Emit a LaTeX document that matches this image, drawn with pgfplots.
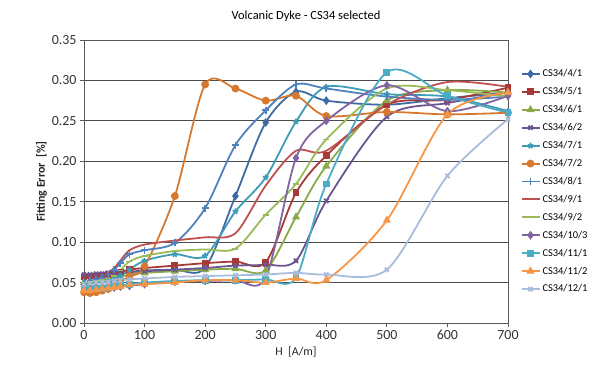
\documentclass[border=0pt]{standalone}
\usepackage{pgfplots}
\pgfplotsset{compat=1.18}
\usepackage{fontspec}
\setmainfont{Carlito}
\definecolor{cA}{HTML}{3F6BA5}
\definecolor{cB}{HTML}{A63A37}
\definecolor{cC}{HTML}{8AAA4A}
\definecolor{cD}{HTML}{6B5590}
\definecolor{cE}{HTML}{3E9DB6}
\definecolor{cF}{HTML}{D6792E}
\definecolor{cG}{HTML}{4F81BD}
\definecolor{cH}{HTML}{C0504D}
\definecolor{cI}{HTML}{9BBB59}
\definecolor{cJ}{HTML}{8064A2}
\definecolor{cK}{HTML}{4BACC6}
\definecolor{cL}{HTML}{F79646}
\definecolor{cM}{HTML}{A9BCDD}
\begin{document}
\begin{tikzpicture}[x=1bp,y=1bp]
\path[use as bounding box] (0,0) rectangle (597,374);
\node[font=\fontsize{12.5}{14}\selectfont] at (306,358) {Volcanic Dyke - CS34 selected};
\begin{axis}[
  at={(84bp,51bp)}, anchor=south west,
  scale only axis, width=424bp, height=283bp,
  xmin=0, xmax=700, ymin=0, ymax=0.35,
  xtick={0,100,...,700}, ytick={0,0.05,...,0.35},
  xtick pos=bottom, ytick pos=left, tick align=outside,
  major tick length=4bp,
  tick style={gray!70!black, line width=0.8pt},
  axis line style={gray!70!black, line width=0.9pt},
  ymajorgrids, grid style={black!70, line width=0.8pt},
  /pgf/number format/assume math mode=true,
  yticklabel style={/pgf/number format/.cd, fixed, fixed zerofill, precision=2},
  ticklabel style={font=\fontsize{14}{16}\selectfont, text=black!80},
  xlabel={H\ \ [A/m]}, ylabel={\bfseries Fitting Error\ \ [\%]},
  label style={font=\fontsize{12}{14}\selectfont, text=black!85},
  ylabel style={yshift=-2bp},
  every axis plot/.append style={smooth, tension=0.5, line width=1.8pt},
  mark options={solid},
  legend style={at={(1.022,0.5)}, anchor=west, draw=white,
     font=\fontsize{10.5}{12}\selectfont, row sep=5.2pt},
  legend image code/.code={%
    \draw[line width=2pt, mark=none] (0bp,0bp) -- (18bp,0bp);%
    \draw[line width=1.8pt] plot[only marks] coordinates {(9bp,0bp)};},
  legend cell align=left,
]
\addplot[color=cA, mark=diamond*, mark size=3] coordinates {(0,0.055)(10,0.056)(20,0.057)(30,0.058)(40,0.059)(50,0.060)(60,0.061)(75,0.063)(100,0.065)(150,0.066)(200,0.068)(250,0.157)(300,0.248)(350,0.286)(400,0.275)(500,0.270)(600,0.278)(700,0.285)};
\addlegendentry{CS34/4/1}
\addplot[color=cB, mark=square*, mark size=2.5] coordinates {(0,0.057)(10,0.058)(20,0.058)(30,0.059)(40,0.060)(50,0.061)(60,0.063)(75,0.066)(100,0.068)(150,0.071)(200,0.074)(250,0.076)(300,0.075)(350,0.161)(400,0.207)(500,0.270)(600,0.276)(700,0.291)};
\addlegendentry{CS34/5/1}
\addplot[color=cC, mark=triangle*, mark size=3] coordinates {(0,0.050)(10,0.051)(20,0.052)(30,0.053)(40,0.054)(50,0.055)(60,0.057)(75,0.060)(100,0.062)(150,0.064)(200,0.066)(250,0.067)(300,0.065)(350,0.131)(400,0.194)(500,0.275)(600,0.288)(700,0.285)};
\addlegendentry{CS34/6/1}
\addplot[color=cD, mark=x, mark size=3] coordinates {(0,0.060)(10,0.060)(20,0.061)(30,0.061)(40,0.062)(50,0.062)(60,0.062)(75,0.063)(100,0.064)(150,0.066)(200,0.068)(250,0.071)(300,0.072)(350,0.077)(400,0.151)(500,0.255)(600,0.272)(700,0.285)};
\addlegendentry{CS34/6/2}
\addplot[color=cE, mark=star, mark size=3] coordinates {(0,0.048)(10,0.049)(20,0.050)(30,0.052)(40,0.053)(50,0.055)(60,0.058)(75,0.066)(100,0.077)(150,0.085)(200,0.083)(250,0.138)(300,0.180)(350,0.249)(400,0.292)(500,0.283)(600,0.280)(700,0.262)};
\addlegendentry{CS34/7/1}
\addplot[color=cF, mark=*, mark size=3] coordinates {(0,0.038)(10,0.037)(20,0.038)(30,0.040)(40,0.042)(50,0.045)(60,0.050)(75,0.058)(100,0.070)(150,0.157)(200,0.295)(250,0.290)(300,0.275)(350,0.281)(400,0.256)(500,0.261)(600,0.258)(700,0.260)};
\addlegendentry{CS34/7/2}
\addplot[color=cG, mark=+, mark size=3.5] coordinates {(0,0.050)(10,0.052)(20,0.054)(30,0.056)(40,0.060)(50,0.066)(60,0.074)(75,0.085)(100,0.090)(150,0.099)(200,0.142)(250,0.220)(300,0.263)(350,0.295)(400,0.290)(500,0.280)(600,0.276)(700,0.280)};
\addlegendentry{CS34/8/1}
\addplot[color=cH, mark=none] coordinates {(0,0.055)(10,0.056)(20,0.058)(30,0.060)(40,0.063)(50,0.068)(60,0.077)(75,0.090)(100,0.097)(150,0.102)(200,0.106)(250,0.111)(300,0.170)(350,0.213)(400,0.213)(500,0.270)(600,0.298)(700,0.292)};
\addlegendentry{CS34/9/1}
\addplot[color=cI, mark=-, mark size=3] coordinates {(0,0.050)(10,0.051)(20,0.052)(30,0.053)(40,0.055)(50,0.058)(60,0.065)(75,0.076)(100,0.083)(150,0.089)(200,0.091)(250,0.092)(300,0.134)(350,0.172)(400,0.227)(500,0.290)(600,0.288)(700,0.280)};
\addlegendentry{CS34/9/2}
\addplot[color=cJ, mark=diamond*, mark size=3] coordinates {(0,0.045)(10,0.045)(20,0.044)(30,0.044)(40,0.044)(50,0.044)(60,0.045)(75,0.046)(100,0.048)(150,0.051)(200,0.052)(250,0.053)(300,0.056)(350,0.204)(400,0.250)(500,0.294)(600,0.262)(700,0.281)};
\addlegendentry{CS34/10/3}
\addplot[color=cK, mark=square*, mark size=2.5] coordinates {(0,0.042)(10,0.042)(20,0.043)(30,0.043)(40,0.044)(50,0.045)(60,0.046)(75,0.048)(100,0.050)(150,0.052)(200,0.053)(250,0.053)(300,0.054)(350,0.056)(400,0.172)(500,0.310)(600,0.281)(700,0.260)};
\addlegendentry{CS34/11/1}
\addplot[color=cL, mark=triangle*, mark size=3] coordinates {(0,0.040)(10,0.040)(20,0.041)(30,0.042)(40,0.043)(50,0.044)(60,0.045)(75,0.047)(100,0.048)(150,0.050)(200,0.053)(250,0.053)(300,0.050)(350,0.055)(400,0.053)(500,0.127)(600,0.258)(700,0.285)};
\addlegendentry{CS34/11/2}
\addplot[color=cM, mark=x, mark size=3] coordinates {(0,0.048)(10,0.049)(20,0.050)(30,0.050)(40,0.051)(50,0.052)(60,0.053)(75,0.054)(100,0.055)(150,0.057)(200,0.058)(250,0.059)(300,0.060)(350,0.062)(400,0.060)(500,0.066)(600,0.182)(700,0.252)};
\addlegendentry{CS34/12/1}
\end{axis}
\end{tikzpicture}
\end{document}
